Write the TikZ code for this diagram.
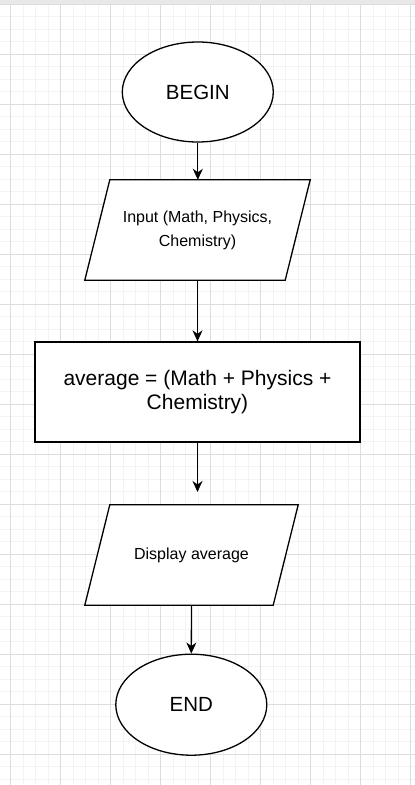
\documentclass[tikz,border=0pt]{standalone}
\usepackage{fontspec}
\setmainfont{Liberation Sans}
\usetikzlibrary{shapes.geometric,arrows.meta}
\definecolor{gridminorc}{HTML}{F3F3F3}
\definecolor{gridmajorc}{HTML}{DDDDDD}
\definecolor{topband}{HTML}{E8E8E8}
\tikzset{
  gridminor/.style={draw=gridminorc,line width=1pt},
  gridmajor/.style={draw=gridmajorc,line width=1pt},
  shapeline/.style={draw=black,line width=1.3pt},
  terminal/.style={ellipse,shapeline,fill=white,minimum width=151pt,minimum height=100pt,inner sep=0pt,font=\fontsize{20.5}{24}\selectfont},
  iobox/.style={rectangle,draw=none,minimum width=200pt,minimum height=100pt,inner sep=0pt,align=center,font=\fontsize{16}{24}\selectfont},
  procbox/.style={rectangle,shapeline,fill=white,minimum width=325pt,minimum height=100pt,inner sep=0pt,align=center,font=\fontsize{21}{24}\selectfont},
  flowarrow/.style={draw=black,line width=1.3pt,-{Stealth[length=11pt,width=10pt,inset=3.5pt]}}
}
\begin{document}
\begin{tikzpicture}[x=1pt,y=-1pt]
\useasboundingbox (0,0) rectangle (415,785);
\fill[white] (0,0) rectangle (415,785);
% grid
\foreach \i in {0,...,32} \draw[gridminor] ({10.5+12.5*\i},4) -- ({10.5+12.5*\i},785);
\foreach \j in {0,...,62} \draw[gridminor] (0,{4.3+12.5*\j}) -- (415,{4.3+12.5*\j});
\foreach \i in {0,...,8} \draw[gridmajor] ({10.5+50*\i},4) -- ({10.5+50*\i},785);
\foreach \j in {0,...,15} \draw[gridmajor] (0,{4.3+50*\j}) -- (415,{4.3+50*\j});
\fill[topband] (0,0) rectangle (415,4);

% nodes
\node[terminal] (begin) at (197.8,92) {BEGIN};
\node[iobox] (input) at (197.5,230) {Input (Math, Physics,\\Chemistry)};
\filldraw[shapeline,fill=white] ([xshift=12.5pt]input.north west) -- ([xshift=12.5pt]input.north east)
  -- ([xshift=-12.5pt]input.south east) -- ([xshift=-12.5pt]input.south west) -- cycle;
\node[iobox] at (input.center) {Input (Math, Physics,\\Chemistry)};
\node[procbox] (avg) at (197.5,392) {average = (Math + Physics +\\Chemistry)};
\node[iobox,minimum width=188pt] (disp) at (191.5,555) {Display average};
\filldraw[shapeline,fill=white] ([xshift=12.5pt]disp.north west) -- ([xshift=12.5pt]disp.north east)
  -- ([xshift=-12.5pt]disp.south east) -- ([xshift=-12.5pt]disp.south west) -- cycle;
\node[iobox,minimum width=188pt] at (disp.center) {Display average};
\node[terminal,minimum height=101pt] (end) at (191.3,704.7) {END};
\coordinate (avgtip) at (197.5,492);

% connectors
\draw[flowarrow] (begin.south) -- (begin.south |- input.north);
\draw[flowarrow] (input.south) -- (avg.north);
\draw[flowarrow] (avg.south -| avgtip) -- (avgtip);
\draw[flowarrow] (disp.south) -- (end.north);
\end{tikzpicture}
\end{document}
